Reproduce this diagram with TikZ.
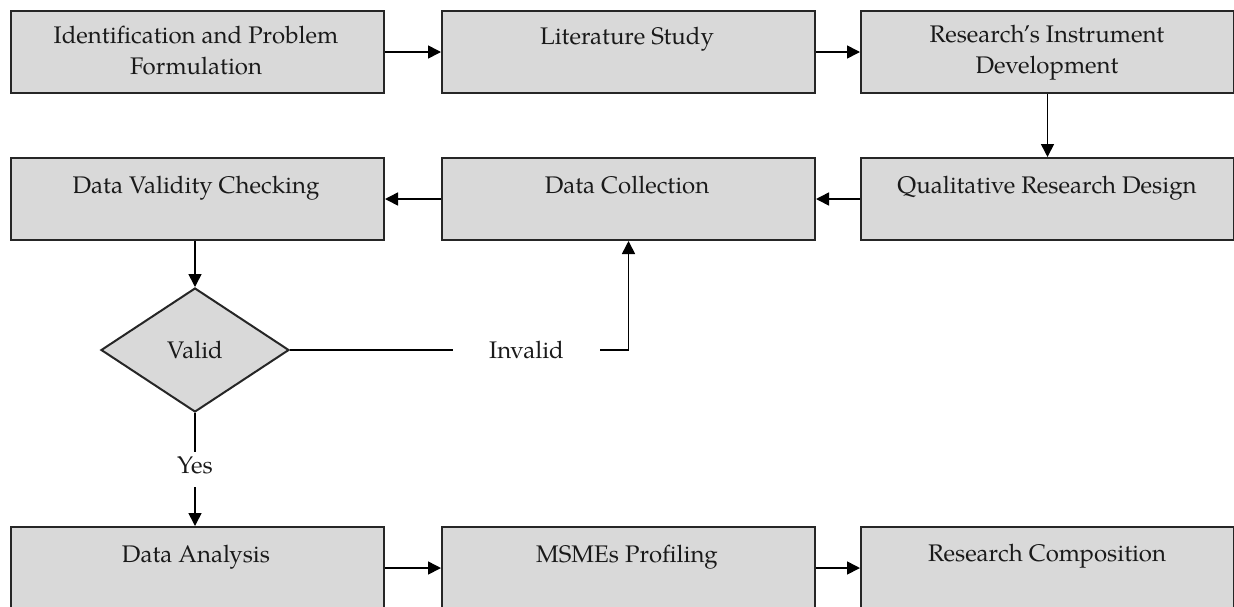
\documentclass[tikz,border=0pt]{standalone}
\usepackage{fontspec}
\setmainfont{TeX Gyre Pagella}
\usetikzlibrary{arrows.meta,shapes.geometric}
\definecolor{boxfill}{HTML}{D9D9D9}
\definecolor{boxline}{HTML}{262626}
\definecolor{txtcol}{HTML}{1A1A1A}
\tikzset{
  stepbox/.style={draw=boxline, fill=boxfill, line width=1pt, rectangle,
    anchor=north west, minimum width=186.5pt, minimum height=41pt, inner sep=0pt},
  decision/.style={draw=boxline, fill=boxfill, line width=1pt, diamond, aspect=1.5,
    minimum width=94pt, minimum height=62pt, inner sep=0pt},
  lbl/.style={font=\fontsize{12}{15.5}\selectfont, text=txtcol, align=center, inner sep=0pt, anchor=base},
  conn/.style={draw=black, line width=0.8pt},
  arr/.style={conn, -{Triangle[length=6.5pt,width=6.5pt]}},
}
\begin{document}
\begin{tikzpicture}[x=0.5pt,y=-0.5pt]
\useasboundingbox (0,0) rectangle (1234,606);
\clip (0,0) rectangle (1234,606);
% boxes
\node[stepbox] (b1) at (10,10) {};
\node[stepbox] (b2) at (441,10) {};
\node[stepbox] (b3) at (860,10) {};
\node[stepbox] (b4) at (860,157) {};
\node[stepbox] (b5) at (441,157) {};
\node[stepbox] (b6) at (10,157) {};
\node[stepbox] (b7) at (10,526) {};
\node[stepbox] (b8) at (441,526) {};
\node[stepbox] (b9) at (860,526) {};
\node[decision] (d) at (195,350) {};
% labels
\node[lbl] (t1) at (196,74) {Identification and Problem\\Formulation};
\node[lbl] (t2) at (627,44) {Literature Study};
\node[lbl] (t3) at (1047,73) {Research’s Instrument\\Development};
\node[lbl] (t4) at (1047,193) {Qualitative Research Design};
\node[lbl] (t5) at (627,193) {Data Collection};
\node[lbl] (t6) at (196,193) {Data Validity Checking};
\node[lbl] (td) at (195,358) {Valid};
\node[lbl] (t7) at (196,562) {Data Analysis};
\node[lbl] (t8) at (627,562) {MSMEs Profiling};
\node[lbl] (t9) at (1047,561) {Research Composition};
\node[lbl, inner xsep=18pt] (inv) at (526.5,358) {Invalid};
\node[lbl, text height=10.5pt, text depth=7pt] (yes) at (195,473) {Yes};
% connectors
\draw[arr] (b1.east) -- (b2.west);
\draw[arr] (b2.east) -- (b3.west);
\draw[arr] (b3.south) -- (b4.north);
\draw[arr] (b4.west) -- (b5.east);
\draw[arr] (b5.west) -- (b6.east);
\draw[arr] (b6.south -| d.north) -- (d.north);
\draw[conn] (d.east) -- (inv.west |- d.east);
\draw[arr] (inv.east |- d.east) -| (b5.south);
\draw[conn] (d.south) -- (yes.north);
\draw[arr] (yes.south) -- (b7.north -| yes.south);
\draw[arr] (b7.east) -- (b8.west);
\draw[arr] (b8.east) -- (b9.west);
\end{tikzpicture}
\end{document}
